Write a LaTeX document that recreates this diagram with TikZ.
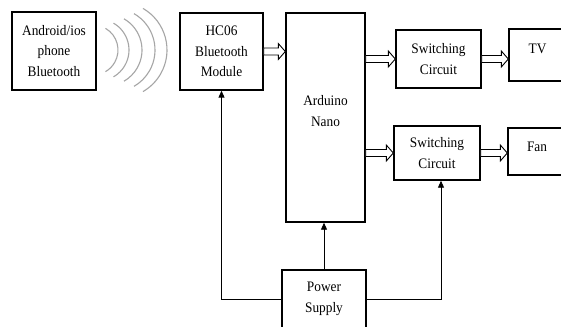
\documentclass[tikz,border=0pt]{standalone}
\usepackage{fontspec}
\setmainfont{Liberation Serif}[FakeStretch=0.92]
\usetikzlibrary{calc,arrows.meta}
\begin{document}
\begin{tikzpicture}[x=1pt, y=-1pt,
        every node/.style={align=center, font=\fontsize{14.5}{20.5}\selectfont},
        box/.style={draw, line width=1.4pt, inner sep=0pt},
        feed/.style={line width=0.9pt, -{Triangle[length=7pt, width=6pt]}},
        hollow/.style={line width=0.9pt, fill=white, to path={let \p1=(\tikztostart), \p2=(\tikztotarget) in
            ({\x1},{\y1+3.5pt}) -- ({\x2-7pt},{\y1+3.5pt}) -- ({\x2-7pt},{\y1+8pt}) -- ({\x2},{\y1})
            -- ({\x2-7pt},{\y1-8pt}) -- ({\x2-7pt},{\y1-3.5pt}) -- ({\x1},{\y1-3.5pt}) -- cycle}}]
    \useasboundingbox[fill=white] (0,0) rectangle (561,326);
    % blocks
    \node[box, minimum width=84, minimum height=78] (phone) at (54,51) {Android/ios\\phone\\Bluetooth};
    \node[box, minimum width=83, minimum height=77] (hc) at (221.5,51.5) {HC06\\Bluetooth\\Module};
    \node[box, minimum width=79, minimum height=209] (ard) at (325.5,117.5) {};
    \node (ardtext) at (325.5,111) {Arduino\\Nano};
    \node[box, minimum width=85, minimum height=58] (sw1) at (438.5,59) {Switching\\Circuit};
    \node[box, minimum width=86, minimum height=54] (sw2) at (437,153) {Switching\\Circuit};
    \node[box, minimum width=57, minimum height=52, text depth=12pt] (tv) at (537.5,55) {TV};
    \node[box, minimum width=58, minimum height=47, text depth=10pt] (fan) at (537,151.5) {Fan};
    \node[box, minimum width=84, minimum height=58] (psu) at (324,299) {Power\\Supply};
    % radio waves
    \foreach \xr/\r in {118/25, 129/31, 142/36, 155/42, 167/48}
        \draw[gray!70, line width=1.1pt] (\xr-\r+\r*0.5, 50-\r*0.866) arc[start angle=-60, end angle=60, radius=\r];
    % data links
    \draw[hollow] (hc.east) to (ard.west |- hc.east);
    \draw[hollow] (sw1.west -| ard.east) to (sw1.west);
    \draw[hollow] (sw1.east) to (tv.west |- sw1.east);
    \draw[hollow] (sw2.west -| ard.east) to (sw2.west);
    \draw[hollow] (sw2.east) to (fan.west |- sw2.east);
    % power lines
    \draw[feed] (psu.north) -- (psu.north |- ard.south);
    \draw[feed] (psu.west) -| (hc.south);
    \draw[feed] (psu.east) -| ([xshift=4pt]sw2.south);
\end{tikzpicture}
\end{document}
